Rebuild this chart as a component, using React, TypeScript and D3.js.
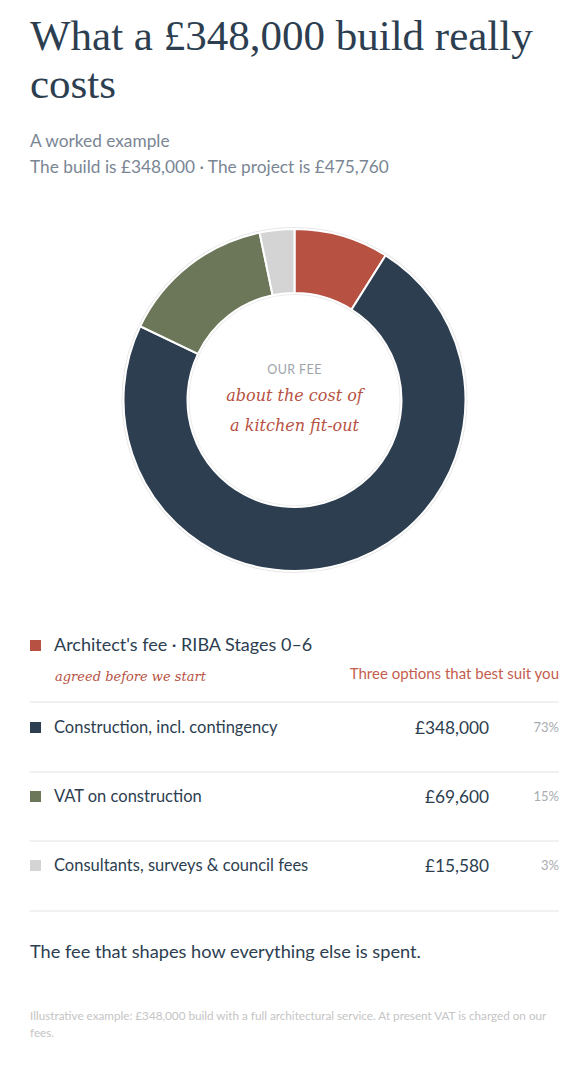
import React, { useRef, useEffect } from "react";
import * as d3 from "d3";

const categories = [
  "Architect's fee · RIBA Stages 0–6",
  "Construction, incl. contingency",
  "VAT on construction",
  "Consultants, surveys & council fees",
];
const amounts = [42580, 348000, 69600, 15580];
const amountLabels = ["", "£348,000", "£69,600", "£15,580"];
const shareLabels = ["", "73%", "15%", "3%"];
const colors = ["#b75243", "#2d3e50", "#6b7758", "#d4d4d4"];

const W = 576;
const H = 1080;
const sans = "Lato, 'Open Sans', sans-serif";
const hand = "'DejaVu Serif', serif";

const App = () => {
  const node: any = useRef();

  useEffect(() => {
    const svg = d3.select(node.current).attr("width", W).attr("height", H);
    svg.selectAll("*").remove();

    // title + subtitle
    const title = ["What a £348,000 build really", "costs"];
    svg
      .selectAll("text.title")
      .data(title)
      .enter()
      .append("text")
      .attr("class", "title")
      .attr("x", 30)
      .attr("y", (d, i) => 50 + i * 48)
      .attr("font-family", "'Liberation Serif', serif")
      .attr("font-size", 43)
      .attr("fill", "#2c3e50")
      .text((d) => d);

    const sub = ["A worked example", "The build is £348,000 · The project is £475,760"];
    svg
      .selectAll("text.sub")
      .data(sub)
      .enter()
      .append("text")
      .attr("class", "sub")
      .attr("x", 30)
      .attr("y", (d, i) => 147 + i * 26)
      .attr("font-family", sans)
      .attr("font-size", 17.3)
      .attr("fill", "#7a8694")
      .text((d) => d);

    // donut
    const cx = 294.5, cy = 400;
    const outerR = 171, innerR = 107;
    const pie = d3.pie<number>().sort(null).value((d) => d);
    const arc = d3.arc<any>().innerRadius(innerR).outerRadius(outerR);
    const g = svg.append("g").attr("transform", `translate(${cx},${cy})`);

    g.append("circle").attr("r", outerR + 1).attr("fill", "none").attr("stroke", "#e8e8e8").attr("stroke-width", 2);
    g.append("circle").attr("r", innerR - 1).attr("fill", "none").attr("stroke", "#ececec").attr("stroke-width", 2);

    g.selectAll("path")
      .data(pie(amounts))
      .enter()
      .append("path")
      .attr("d", arc)
      .attr("fill", (d, i) => colors[i])
      .attr("stroke", "#fff")
      .attr("stroke-width", 2);

    g.append("text")
      .attr("y", -26)
      .attr("text-anchor", "middle")
      .attr("font-family", sans)
      .attr("font-size", 12.5)
      .attr("letter-spacing", 0.4)
      .attr("fill", "#9ea4ab")
      .text("OUR FEE");
    const centre = ["about the cost of", "a kitchen fit-out"];
    g.selectAll("text.hand")
      .data(centre)
      .enter()
      .append("text")
      .attr("class", "hand")
      .attr("y", (d, i) => 1 + i * 30)
      .attr("text-anchor", "middle")
      .attr("font-family", hand)
      .attr("font-style", "italic")
      .attr("font-size", 16)
      .attr("fill", "#b75243")
      .text((d) => d);

    // legend table
    const x0 = 30, x1 = 559;
    const first = svg.append("g");
    first.append("rect").attr("x", x0).attr("y", 640).attr("width", 11).attr("height", 11).attr("fill", colors[0]);
    first
      .append("text")
      .attr("x", 54)
      .attr("y", 651)
      .attr("font-family", sans)
      .attr("font-size", 18)
      .attr("fill", "#2c3e50")
      .text(categories[0]);
    first
      .append("text")
      .attr("x", 55)
      .attr("y", 681)
      .attr("font-family", hand)
      .attr("font-style", "italic")
      .attr("font-size", 13)
      .attr("fill", "#b75243")
      .text("agreed before we start");
    first
      .append("text")
      .attr("x", x1)
      .attr("y", 679)
      .attr("text-anchor", "end")
      .attr("font-family", sans)
      .attr("font-size", 15)
      .attr("fill", "#c45d4e")
      .text("Three options that best suit you");

    const lines = [702, 772, 841, 911];
    svg
      .selectAll("line.div")
      .data(lines)
      .enter()
      .append("line")
      .attr("class", "div")
      .attr("x1", x0)
      .attr("x2", x1)
      .attr("y1", (d) => d)
      .attr("y2", (d) => d)
      .attr("stroke", "#e2e2e2")
      .attr("stroke-width", 1);

    const rows = [1, 2, 3];
    const rowY = d3.scalePoint<number>().domain(rows).range([727, 865]);
    const rg = svg
      .selectAll("g.row")
      .data(rows)
      .enter()
      .append("g")
      .attr("class", "row")
      .attr("transform", (d) => `translate(0,${rowY(d)})`);
    rg.append("rect").attr("x", x0).attr("y", -5).attr("width", 11).attr("height", 11).attr("fill", (d) => colors[d]);
    rg.append("text")
      .attr("x", 54)
      .attr("y", 6)
      .attr("font-family", sans)
      .attr("font-size", 16.5)
      .attr("fill", "#2c3e50")
      .text((d) => categories[d]);
    rg.append("text")
      .attr("x", 489)
      .attr("y", 7)
      .attr("text-anchor", "end")
      .attr("font-family", sans)
      .attr("font-size", 17.3)
      .attr("fill", "#2c3e50")
      .text((d) => amountLabels[d]);
    rg.append("text")
      .attr("x", x1)
      .attr("y", 5)
      .attr("text-anchor", "end")
      .attr("font-family", sans)
      .attr("font-size", 13)
      .attr("fill", "#a8acb0")
      .text((d) => shareLabels[d]);

    svg
      .append("text")
      .attr("x", 30)
      .attr("y", 958)
      .attr("font-family", sans)
      .attr("font-size", 18.2)
      .attr("fill", "#2c3e50")
      .text("The fee that shapes how everything else is spent.");

    const foot = [
      "Illustrative example: £348,000 build with a full architectural service. At present VAT is charged on our",
      "fees.",
    ];
    svg
      .selectAll("text.foot")
      .data(foot)
      .enter()
      .append("text")
      .attr("class", "foot")
      .attr("x", 30)
      .attr("y", (d, i) => 1020 + i * 17)
      .attr("font-family", sans)
      .attr("font-size", 11.7)
      .attr("fill", "#c4c4c4")
      .text((d) => d);
  }, []);

  return <svg ref={node} style={{ position: "absolute", left: 0, top: 0, background: "#fff" }}></svg>;
};

export default App;
